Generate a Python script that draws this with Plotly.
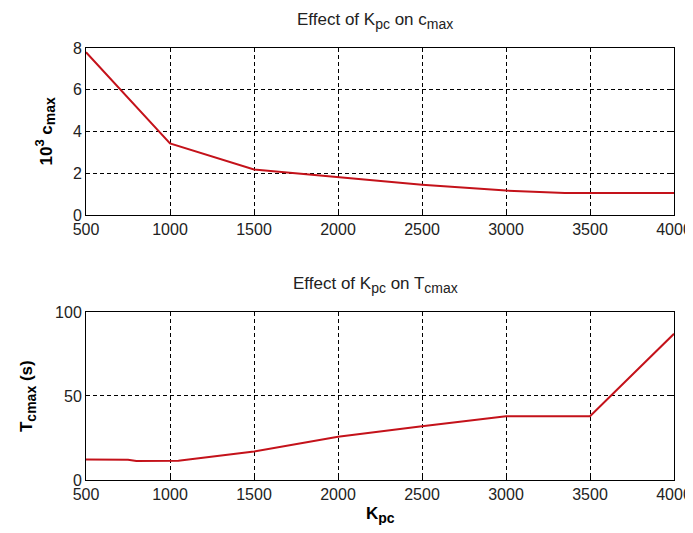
import plotly.graph_objects as go

kpc_top = [500, 1000, 1500, 2000, 2500, 3000, 3350, 3500, 4000]
cmax_e3 = [7.8, 3.43, 2.18, 1.83, 1.45, 1.17, 1.06, 1.06, 1.06]

kpc_bot = [500, 750, 800, 1050, 1500, 2000, 2500, 3000, 3500, 4000]
tcmax_s = [12.2, 12.1, 11.3, 11.4, 16.9, 25.8, 32.0, 38.0, 38.0, 87.0]

x_ticks = [500, 1000, 1500, 2000, 2500, 3000, 3500, 4000]
y_ticks_top = [0, 2, 4, 6, 8]
y_ticks_bot = [0, 50, 100]

LINE = "#c4121a"
FONT = "Liberation Sans, Arial, sans-serif"


def sub(s, px=14):
    return f"<sub><span style='font-size:{px}px'>{s}</span></sub>"


fig = go.Figure()
fig.add_trace(go.Scatter(x=kpc_top, y=cmax_e3, mode="lines",
                         line=dict(color=LINE, width=2), xaxis="x", yaxis="y",
                         showlegend=False))
fig.add_trace(go.Scatter(x=kpc_bot, y=tcmax_s, mode="lines",
                         line=dict(color=LINE, width=2), xaxis="x2", yaxis="y2",
                         showlegend=False))

axcommon = dict(showline=True, mirror="ticks", linecolor="black", linewidth=1,
                ticks="inside", ticklen=4, tickcolor="black", automargin=False,
                ticklabeloverflow="allow",
                showgrid=True, gridcolor="black", gridwidth=1, griddash="4px,3px",
                zeroline=False, tickfont=dict(family=FONT, size=16, color="#222222"))

fig.update_layout(
    width=685, height=517,
    margin=dict(l=78, r=19, t=40, b=45, autoexpand=False),
    paper_bgcolor="white", plot_bgcolor="white",
    font=dict(family=FONT, color="black"),
    xaxis=dict(domain=[0, 1], anchor="y", range=[500, 4000], tickvals=x_ticks, **axcommon),
    yaxis=dict(domain=[0.6134, 1], anchor="x", range=[0, 8], tickvals=y_ticks_top, **axcommon),
    xaxis2=dict(domain=[0, 1], anchor="y2", range=[500, 4000], tickvals=x_ticks, **axcommon),
    yaxis2=dict(domain=[0, 0.3889], anchor="x2", range=[0, 100], tickvals=y_ticks_bot, **axcommon),
    annotations=[
        dict(text="Effect of K" + sub("pc") + " on c" + sub("max"), xref="paper", yref="paper",
             x=0.492, y=1.0, yshift=14, xanchor="center", yanchor="bottom", showarrow=False,
             font=dict(family=FONT, size=17, color="#222222")),
        dict(text="Effect of K" + sub("pc") + " on T" + sub("cmax"), xref="paper", yref="paper",
             x=0.492, y=0.3889, yshift=14, xanchor="center", yanchor="bottom", showarrow=False,
             font=dict(family=FONT, size=17, color="#222222")),
        dict(text="<b>10<sup><span style='font-size:13px'>3</span></sup> c" + sub("max", 14) + "</b>",
             xref="paper", yref="paper",
             x=0, xshift=-41, y=0.8067, xanchor="center", yanchor="middle", textangle=-90,
             showarrow=False, font=dict(family=FONT, size=17, color="black")),
        dict(text="<b>T" + sub("cmax", 14) + " (s)</b>", xref="paper", yref="paper",
             x=0, xshift=-58, y=0.1944, xanchor="center", yanchor="middle", textangle=-90,
             showarrow=False, font=dict(family=FONT, size=17, color="black")),
        dict(text="<b>K" + sub("pc", 14) + "</b>", xref="paper", yref="paper",
             x=0.5, y=0, yshift=-22, xanchor="center", yanchor="top", showarrow=False,
             font=dict(family=FONT, size=17, color="black")),
    ],
)

fig.write_html("out.html")
